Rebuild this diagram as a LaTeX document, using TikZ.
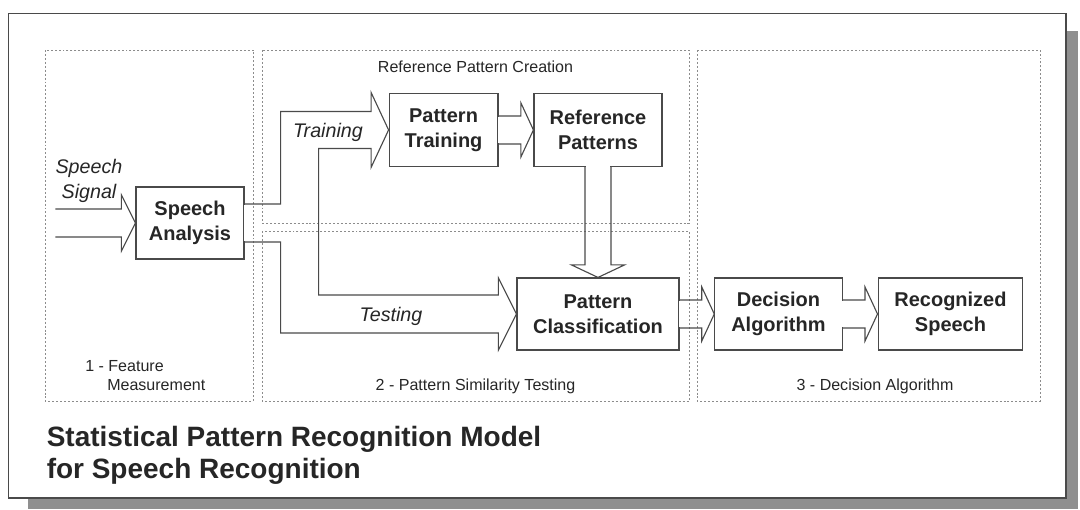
\documentclass[tikz,border=0pt]{standalone}
\usepackage{fontspec}
\setmainfont{Liberation Sans}
\usetikzlibrary{calc, positioning}
\definecolor{inkgray}{HTML}{262626}
\definecolor{linegray}{HTML}{4A4A4A}
\definecolor{dotgray}{HTML}{8C8C8C}
\definecolor{shadowgray}{HTML}{8F8F8F}
\tikzset{
    block/.style={draw=linegray, line width=0.8pt, fill=white, text=inkgray, align=center,
        inner sep=0pt, minimum height=1.8cm, font=\fontsize{14.2}{17.8}\selectfont\bfseries},
    flow/.style={draw=linegray, line width=0.8pt, line join=miter},
    region/.style={draw=dotgray, line width=0.6pt, dash pattern=on 1.4pt off 1.4pt},
    caption/.style={text=inkgray, inner sep=0pt, font=\fontsize{11.4}{13.5}\selectfont},
    path label/.style={text=inkgray, inner sep=0pt, font=\fontsize{14}{18}\selectfont\itshape}
}
% hollow block arrow from the east side of #1 to the west side of #2
\newcommand{\blockarrow}[2]{%
    \fill[white] ($(#1.east)+(-1,-13.3)$) rectangle ($(#1.east)+(1,13.3)$);
    \draw[flow] ($(#1.east)+(0,-14)$) -- ($(#2.west)+(-12.5,-14)$) -- ++(0,-13)
        -- (#2.west) -- ($(#2.west)+(-12.5,27)$) -- ++(0,-13) -- ($(#1.east)+(0,14)$);
}

\begin{document}
\begin{tikzpicture}[x=0.025cm, y=-0.025cm, node distance=4cm, on grid]
      \useasboundingbox (0,0) rectangle (1080,509);
      % shadow and outer frame
      \fill[shadowgray] (28,498) rectangle (1078,509);
      \fill[shadowgray] (1066,31) rectangle (1078,509);
      \draw[linegray, line width=1.1pt, fill=white] (8.5,13.5) rectangle (1066,498);

      % the three stages
      \draw[region] (45,50) rectangle (253,401);
      \draw[region] (262,50) rectangle (689,223);
      \draw[region] (262,231) rectangle (689,401);
      \draw[region] (697,50) rectangle (1040,401);

      \node[block, minimum width=4.05cm] (pc) at (598,314) {Pattern\\Classification};
      \node[block, minimum width=3.2cm, minimum height=1.83cm] (rp) [above=4.6cm of pc] {Reference\\Patterns};
      \node[block, minimum width=2.72cm, minimum height=1.83cm] (pt) [left=3.86cm of rp] {Pattern\\Training};
      \node[block, minimum width=3.18cm] (da) [right=4.51cm of pc] {Decision\\Algorithm};
      \node[block, minimum width=3.62cm] (rs) [right=4.3cm of da] {Recognized\\Speech};
      \node[block, minimum width=2.7cm] (sa) at (190,223) {Speech\\Analysis};

      % input signal
      \coordinate (sig) at ($(sa.west)+(-80,0)$);
      \draw[flow] ($(sig)+(0,-14)$) -- ($(sa.west)+(-14,-14)$) -- ++(0,-14) -- (sa.west)
        -- ($(sa.west)+(-14,28)$) -- ++(0,-14) -- ($(sig)+(0,14)$);

      % training / testing split
      \coordinate (split) at ($(sa.east)+(36,0)$);
      \coordinate (inner) at ($(sa.east)+(74,0)$);
      \coordinate (trn) at ($(pt.west)+(-17.5,0)$);
      \coordinate (tst) at ($(pc.west)+(-18,0)$);
      \fill[white] ($(sa.east)+(-1,-18.3)$) rectangle ($(sa.east)+(1,18.3)$);
      \draw[flow] ($(sa.east)+(0,-19)$) -- ($(split)+(0,-19)$)
        |- ($(trn)+(0,-18.5)$) -- ($(trn)+(0,-37.5)$) -- (pt.west) -- ($(trn)+(0,37.5)$) -- ($(trn)+(0,18.5)$)
        -| ($(inner |- tst)+(0,-19)$) -- ($(tst)+(0,-19)$) -- ($(tst)+(0,-36)$) -- (pc.west)
        -- ($(tst)+(0,36)$) -- ($(tst)+(0,19)$) -| ($(split)+(0,19)$) -- ($(sa.east)+(0,19)$);

      \blockarrow{pt}{rp}
      \blockarrow{pc}{da}
      \blockarrow{da}{rs}

      % reference patterns down to classification
      \fill[white] ($(rp.south)+(-12.3,-1)$) rectangle ($(rp.south)+(12.3,1)$);
      \draw[flow] ($(rp.south)+(-13,0)$) -- ($(pc.north)+(-13,-12.5)$) -- ++(-13.5,0) -- (pc.north)
        -- ($(pc.north)+(26.5,-12.5)$) -- ++(-13.5,0) -- ($(rp.south)+(13,0)$);

      \node[path label, align=center] (signal) at (89,181) {Speech\\Signal};
      \node[path label] (training) at (328,132) {Training};
      \node[path label] (testing) at (391,316) {Testing};

      \node[caption] (creation) at (475.5,67) {Reference Pattern Creation};
      \node[caption, align=left, anchor=west] (stage1) at (85,376) {1 - Feature\\\hspace*{0.55cm}Measurement};
      \node[caption] (stage2) at (475.5,386) {2 - Pattern Similarity Testing};
      \node[caption] (stage3) at (875,386) {3 - Decision Algorithm};

      \node[anchor=north west, inner sep=0pt, align=left, text=inkgray,
        font=\fontsize{19.9}{22.8}\selectfont\bfseries] (title) at (46.5,426)
        {Statistical Pattern Recognition Model\\for Speech Recognition};
\end{tikzpicture}
\end{document}
